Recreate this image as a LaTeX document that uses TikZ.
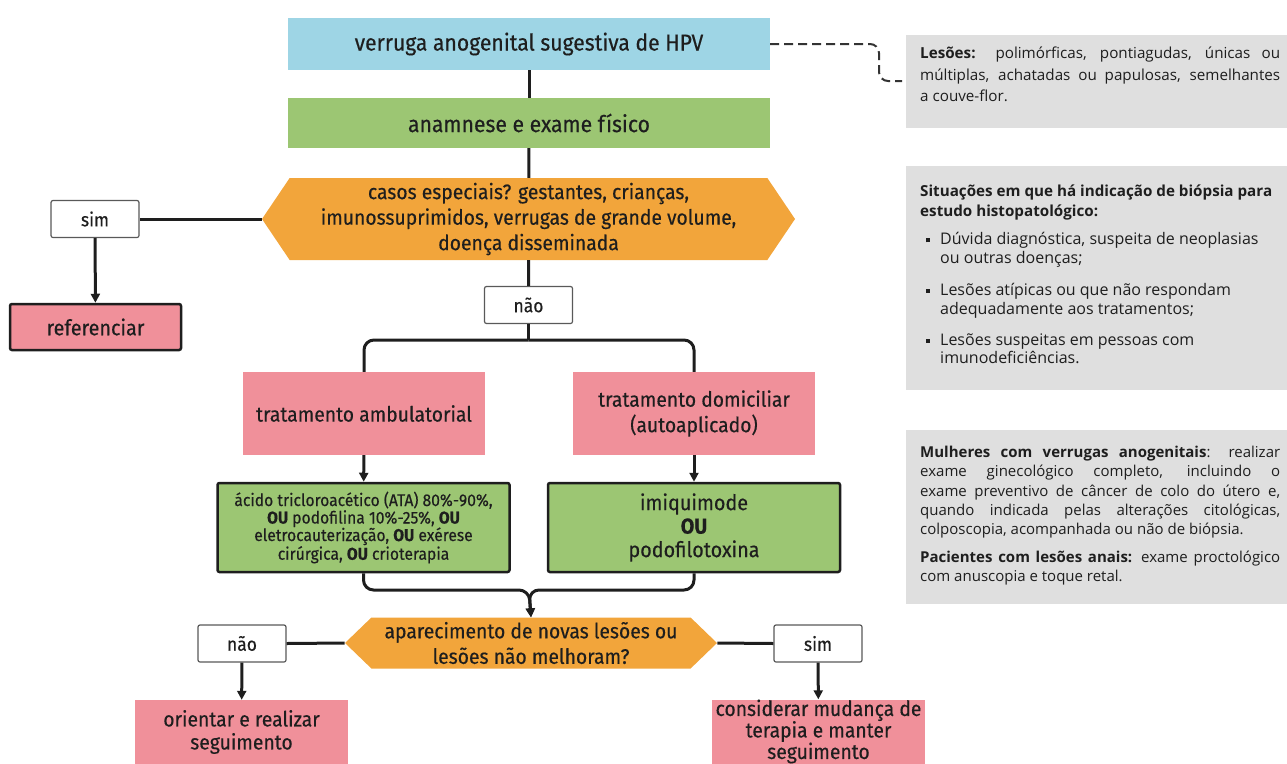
\documentclass[tikz,border=0pt]{standalone}
\usepackage{fontspec}
\setmainfont{Fira Sans}
\newfontfamily\flowfont[FakeStretch=0.92,FakeBold=0.35]{Fira Sans}
\newfontfamily\notefont{Open Sans}
\usetikzlibrary{shapes.symbols,arrows.meta}

\definecolor{cblue}{HTML}{9ED5E5}
\definecolor{cgreen}{HTML}{9CC673}
\definecolor{corange}{HTML}{F2A53B}
\definecolor{cpink}{HTML}{F0909A}
\definecolor{cgray}{HTML}{DFDFDF}
\definecolor{cink}{HTML}{1E1E1E}

\newcommand{\bulletline}[2]{\makebox[20pt][l]{\hspace{6pt}\raisebox{2.5pt}{\rule{4pt}{4pt}}}#1\\\hspace*{20pt}#2}
\newcommand{\flowsize}[2]{\flowfont\fontsize{#1}{#2}\selectfont}

\tikzset{
  flow/.style={font=\flowsize{21}{25.5}, text=cink, align=center, inner sep=0pt},
  plainbox/.style={flow, rectangle, minimum width=#1},
  bluebox/.style={plainbox=482pt, fill=cblue, minimum height=52pt, font=\flowsize{23}{26}},
  greenbox/.style={plainbox=482pt, fill=cgreen, minimum height=50pt, font=\flowsize{23}{26}},
  pinkbox/.style={plainbox=242pt, fill=cpink, minimum height=83pt},
  choice/.style={flow, shape=signal, signal to=west and east, fill=corange},
  answer/.style={flow, font=\flowsize{19}{20}, draw=black!65, line width=1.2pt,
    fill=white, rounded corners=2pt, minimum width=88pt, minimum height=37pt},
  treatbox/.style={flow, fill=cgreen, draw=cink, line width=2.5pt, rounded corners=2pt,
    minimum width=292pt, minimum height=89pt},
  endbox/.style={flow, fill=cpink, minimum width=213pt, minimum height=64pt},
  notebox/.style={fill=cgray, minimum width=381pt, anchor=north west, inner sep=0pt},
  notetext/.style={font=\notefont\fontsize{15.2}{21.5}\selectfont, text=cink, anchor=north west,
    inner sep=0pt},
  link/.style={draw=cink, line width=3pt},
  linkarrow/.style={link, -{Triangle[length=9pt,width=9pt]}},
  notelink/.style={draw=black!80, line width=2pt, dash pattern=on 9pt off 5pt, rounded corners=9pt},
}

\begin{document}
\begin{tikzpicture}[x=1pt,y=-1pt]
\useasboundingbox (0,0) rectangle (1287,763);

% main column
\node[bluebox]  (hpv)  at (529,44)  {verruga anogenital sugestiva de HPV};
\node[greenbox] (exam) at (529,123) {anamnese e exame físico};
\node[choice, minimum width=533pt, minimum height=82pt, signal pointer angle=112] (special) at (528.5,219)
  {casos especiais? gestantes, crianças,\\imunossuprimidos, verrugas de grande volume,\\doença disseminada};

\node[answer] (sim1) at (95,219) {sim};
\node[flow, font=\flowsize{21.5}{24}, fill=cpink, draw=cink, line width=2.5pt, rounded corners=2pt,
      minimum width=171pt, minimum height=46pt] (refer) at (95.5,327) {referenciar};
\node[answer] (nao1) at (528.5,305) {não};

\node[pinkbox] (amb) at (364,413.5) {tratamento ambulatorial};
\node[pinkbox] (dom) at (694,413.5) {tratamento domiciliar\\(autoaplicado)};

\node[treatbox, font=\flowsize{17}{17.5}] (tleft) at (363.5,527.5)
  {ácido tricloroacético (ATA) 80\%-90\%,\\\textbf{OU} podofilina 10\%-25\%, \textbf{OU}\\
   eletrocauterização, \textbf{OU} exérese\\cirúrgica, \textbf{OU} crioterapia};
\node[treatbox, font=\flowsize{21.5}{23.5}] (tright) at (694,527.5)
  {imiquimode\\\textbf{OU}\\podofilotoxina};

\node[choice, minimum width=372pt, minimum height=51pt, signal pointer angle=88] (again) at (531,643)
  {aparecimento de novas lesões ou\\lesões não melhoram?};
\node[answer] (nao2) at (242,643.5) {não};
\node[answer] (sim2) at (818,643.5) {sim};
\node[endbox, font=\flowsize{21}{23}] (follow) at (241.5,732) {orientar e realizar\\seguimento};
\node[endbox, font=\flowsize{21}{21.5}] (change) at (818.5,731.5)
  {considerar mudança de\\terapia e manter\\seguimento};

% connectors
\draw[link] (hpv) -- (exam);
\draw[link] (exam) -- (special);
\draw[link] (special.west) -- (sim1.east);
\draw[linkarrow] (sim1) -- (refer);
\draw[link] (special) -- (nao1);
\coordinate (split) at (528.5,340);
\draw[link] (nao1.south) -- (split);
\draw[link, rounded corners=10pt] (split) -| (amb.north);
\draw[link, rounded corners=10pt] (split) -| (dom.north);
\draw[linkarrow] (amb) -- (tleft);
\draw[linkarrow] (dom) -- (tright);
\coordinate (merge) at (529,590);
\draw[linkarrow, rounded corners=10pt] (tleft.south) |- (merge) -- (again.north);
\draw[linkarrow, rounded corners=10pt] (tright.south) |- (merge) -- (again.north);
\draw[link] (again.west) -- (nao2.east);
\draw[link] (again.east) -- (sim2.west);
\draw[linkarrow] (nao2) -- (follow);
\draw[linkarrow] (sim2) -- (change);

% side notes
\node[notebox, minimum height=93pt] (lesions) at (906,35) {};
\node[notetext, text width=360pt, align=justify] (lesionstext) at (920,47)
  {\textbf{Lesões:} polimórficas, pontiagudas, únicas ou\linebreak
   múltiplas, achatadas ou papulosas, semelhantes\linebreak a couve-flor.};
\coordinate (noteend) at (902,81);
\draw[notelink] (hpv.east) -- (879,44) -- (879,81) -- (noteend);

\node[notebox, minimum height=224pt] (biopsy) at (906,166) {};
\node[notetext, align=left, font=\notefont\fontsize{16}{18.6}\selectfont] (biopsytext) at (920,185)
  {{\fontsize{15.2}{18.6}\selectfont\bfseries Situações em que há indicação de biópsia para}\\[1.4pt]
   {\fontsize{15.2}{18.6}\selectfont\bfseries estudo histopatológico:}\\[9.4pt]
   \bulletline{Dúvida diagnóstica, suspeita de neoplasias}{ou outras doenças;}\\[13.4pt]
   \bulletline{Lesões atípicas ou que não respondam}{adequadamente aos tratamentos;}\\[12.4pt]
   \bulletline{Lesões suspeitas em pessoas com}{imunodeficiências.}};

\node[notebox, minimum height=174pt] (women) at (906,430) {};
\node[notetext, text width=360pt, align=justify, font=\notefont\fontsize{15}{19.3}\selectfont]
  (womentext) at (920,446)
  {\textbf{Mulheres com verrugas anogenitais}: realizar\linebreak
   exame ginecológico completo, incluindo o\linebreak
   exame preventivo de câncer de colo do útero e,\linebreak
   quando indicada pelas alterações citológicas,\linebreak
   colposcopia, acompanhada ou não de biópsia.\par\vspace{8pt}
   \textbf{Pacientes com lesões anais:} exame proctológico\linebreak
   com anuscopia e toque retal.};
\end{tikzpicture}
\end{document}
